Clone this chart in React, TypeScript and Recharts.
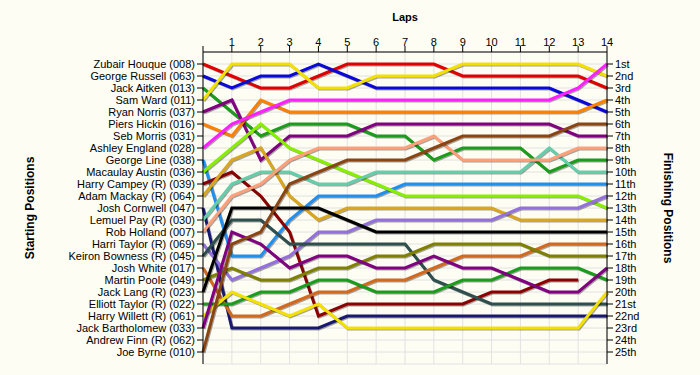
import React from 'react'
import { LineChart, Line, XAxis, YAxis, CartesianGrid } from 'recharts'

// laps along the top
const laps = [0, 1, 2, 3, 4, 5, 6, 7, 8, 9, 10, 11, 12, 13, 14]
const lapTicks = [0, 1, 2, 3, 4, 5, 6, 7, 8, 9, 10, 11, 12, 13, 14]
const rowTicks = [1, 2, 3, 4, 5, 6, 7, 8, 9, 10, 11, 12, 13, 14, 15, 16, 17, 18, 19, 20, 21, 22, 23, 24, 25]

const startingLabels = [
  'Zubair Houque (008)',
  'George Russell (063)',
  'Jack Aitken (013)',
  'Sam Ward (011)',
  'Ryan Norris (037)',
  'Piers Hickin (016)',
  'Seb Morris (031)',
  'Ashley England (028)',
  'George Line (038)',
  'Macaulay Austin (036)',
  'Harry Campey (R) (039)',
  'Adam Mackay (R) (064)',
  'Josh Cornwell (047)',
  'Lemuel Pay (R) (030)',
  'Rob Holland (007)',
  'Harri Taylor (R) (069)',
  'Keiron Bowness (R) (045)',
  'Josh White (017)',
  'Martin Poole (049)',
  'Jack Lang (R) (023)',
  'Elliott Taylor (R) (022)',
  'Harry Willett (R) (061)',
  'Jack Bartholomew (033)',
  'Andrew Finn (R) (062)',
  'Joe Byrne (010)'
]

const finishingLabels = [
  '1st', '2nd', '3rd', '4th', '5th', '6th', '7th', '8th', '9th', '10th',
  '11th', '12th', '13th', '14th', '15th', '16th', '17th', '18th', '19th', '20th',
  '21st', '22nd', '23rd', '24th', '25th'
]

// position at the end of each lap (lap 0 = grid)
const houque = [1, 2, 3, 3, 2, 1, 1, 1, 1, 2, 2, 2, 2, 2, 3]
const russell = [2, 3, 2, 2, 1, 2, 3, 3, 3, 3, 3, 3, 3, 4, 5]
const aitken = [3, 5, 7, 6, 6, 6, 7, 7, 9, 8, 8, 8, 10, 9, 9]
const ward = [4, 1, 1, 1, 3, 3, 2, 2, 2, 1, 1, 1, 1, 1, 2]
const norris = [5, 4, 9, 7, 7, 7, 6, 6, 6, 6, 6, 6, 6, 7, 7]
const hickin = [6, 7, 4, 5, 5, 5, 5, 5, 5, 5, 5, 5, 5, 5, 4]
const england = [8, 6, 5, 4, 4, 4, 4, 4, 4, 4, 4, 4, 4, 3, 1]
const line = [9, 17, 17, 14, 12, 12, 12, 11, 11, 11, 11, 11, 11, 11, 11]
const austin = [10, 8, 6, 8, 9, 10, 11, 12, 12, 12, 12, 12, 12, 12, 13]
const campey = [11, 10, 12, 15, 22, 21, 21, 21, 21, 21, 20, 20, 19, 19, null]
const mackay = [12, 9, 8, 12, 14, 13, 13, 13, 13, 13, 13, 14, 14, 14, 14]
const cornwell = [13, 23, 23, 23, 23, 22, 22, 22, 22, 22, 22, 22, 22, 22, 22]
const pay = [14, 11, 10, 10, 11, 11, 10, 10, 10, 10, 10, 10, 8, 10, 10]
const holland = [15, 12, 11, 9, 8, 8, 8, 8, 7, 9, 9, 9, 9, 8, 8]
const harriTaylor = [16, 19, 18, 17, 15, 15, 14, 14, 14, 14, 14, 13, 13, 13, 12]
const bowness = [17, 14, 14, 16, 16, 16, 16, 16, 19, 20, 21, 21, 21, 21, 21]
const white = [18, 22, 22, 21, 20, 20, 19, 19, 18, 17, 17, 17, 16, 16, 16]
const poole = [19, 18, 19, 19, 18, 18, 17, 17, 16, 16, 16, 16, 17, 17, 17]
const lang = [20, 13, 13, 13, 13, 14, 15, 15, 15, 15, 15, 15, 15, 15, 15]
const elliottTaylor = [21, 21, 20, 20, 19, 19, 20, 20, 20, 19, 19, 18, 18, 18, 19]
const willett = [22, 20, 21, 22, 21, 23, 23, 23, 23, 23, 23, 23, 23, 23, 20]
const bartholomew = [23, 15, 16, 18, 17, 17, 18, 18, 17, 18, 18, 19, 20, 20, 18]
const byrne = [25, 16, 15, 11, 10, 9, 9, 9, 8, 7, 7, 7, 7, 6, 6]

const drivers = [
  { key: 'houque', name: 'Zubair Houque (008)', values: houque },
  { key: 'russell', name: 'George Russell (063)', values: russell },
  { key: 'aitken', name: 'Jack Aitken (013)', values: aitken },
  { key: 'ward', name: 'Sam Ward (011)', values: ward },
  { key: 'norris', name: 'Ryan Norris (037)', values: norris },
  { key: 'hickin', name: 'Piers Hickin (016)', values: hickin },
  { key: 'england', name: 'Ashley England (028)', values: england },
  { key: 'line', name: 'George Line (038)', values: line },
  { key: 'austin', name: 'Macaulay Austin (036)', values: austin },
  { key: 'campey', name: 'Harry Campey (R) (039)', values: campey },
  { key: 'mackay', name: 'Adam Mackay (R) (064)', values: mackay },
  { key: 'cornwell', name: 'Josh Cornwell (047)', values: cornwell },
  { key: 'pay', name: 'Lemuel Pay (R) (030)', values: pay },
  { key: 'holland', name: 'Rob Holland (007)', values: holland },
  { key: 'harriTaylor', name: 'Harri Taylor (R) (069)', values: harriTaylor },
  { key: 'bowness', name: 'Keiron Bowness (R) (045)', values: bowness },
  { key: 'white', name: 'Josh White (017)', values: white },
  { key: 'poole', name: 'Martin Poole (049)', values: poole },
  { key: 'lang', name: 'Jack Lang (R) (023)', values: lang },
  { key: 'elliottTaylor', name: 'Elliott Taylor (R) (022)', values: elliottTaylor },
  { key: 'willett', name: 'Harry Willett (R) (061)', values: willett },
  { key: 'bartholomew', name: 'Jack Bartholomew (033)', values: bartholomew },
  { key: 'byrne', name: 'Joe Byrne (010)', values: byrne }
]

const lineColors: Record<string, string> = {
  houque: '#e00000',
  russell: '#0a0ad8',
  aitken: '#1c9c1c',
  ward: '#f4e000',
  norris: '#800080',
  hickin: '#ff8000',
  england: '#ff20ff',
  line: '#2090f0',
  austin: '#88ee00',
  campey: '#8b0000',
  mackay: '#daa520',
  cornwell: '#191970',
  pay: '#66cdaa',
  holland: '#ffa07a',
  harriTaylor: '#9370db',
  bowness: '#2f4f4f',
  white: '#d2691e',
  poole: '#808000',
  lang: '#000000',
  elliottTaylor: '#1c9c1c',
  willett: '#f4e000',
  bartholomew: '#800080',
  byrne: '#8b4513'
}

const data = laps.map((lap, i) => {
  const row: Record<string, number | null> = { lap }
  drivers.forEach(d => {
    row[d.key] = d.values[i]
  })
  return row
})

const titleStyle: React.CSSProperties = {
  position: 'absolute',
  fontWeight: 'bold',
  fontSize: 12,
  color: '#000',
  whiteSpace: 'nowrap'
}

export default function App() {
  return (
    <div
      className="lapchart"
      style={{
        position: 'absolute',
        left: 0,
        top: 0,
        width: 700,
        height: 375,
        background: '#fdfdf3',
        fontFamily: '"Liberation Sans", Arial, sans-serif'
      }}
    >
      <style>{`.lapchart .recharts-line-curve { filter: drop-shadow(1px 1.5px 0.4px rgba(0,0,0,0.35)); }`}</style>
      <LineChart width={700} height={375} data={data} margin={{ top: 0, right: 0, bottom: 11, left: 0 }}>
        <CartesianGrid stroke="#e2e2e2" />
        <XAxis
          dataKey="lap"
          type="number"
          orientation="top"
          domain={[0, 14]}
          ticks={lapTicks}
          interval={0}
          height={52}
          tickMargin={0}
          tickFormatter={(v: number) => (v === 0 ? '' : String(v))}
          tick={{ fill: '#000', fontSize: 11 }}
          axisLine={{ stroke: '#000' }}
          tickLine={{ stroke: '#000' }}
        />
        <YAxis
          type="number"
          domain={[0, 26]}
          reversed
          ticks={rowTicks}
          interval={0}
          width={203}
          tickFormatter={(v: number) => startingLabels[v - 1]}
          tick={{ fill: '#000', fontSize: 11 }}
          axisLine={{ stroke: '#000' }}
          tickLine={{ stroke: '#000' }}
        />
        <YAxis
          yAxisId="right"
          orientation="right"
          type="number"
          domain={[0, 26]}
          reversed
          ticks={rowTicks}
          interval={0}
          width={93}
          tickFormatter={(v: number) => finishingLabels[v - 1]}
          tick={{ fill: '#000', fontSize: 11 }}
          axisLine={{ stroke: '#000' }}
          tickLine={{ stroke: '#000' }}
        />
        {drivers.map((d, i) => (
          <Line
            key={d.key}
            yAxisId={i === drivers.length - 1 ? 'right' : 0}
            type="linear"
            dataKey={d.key}
            name={d.name}
            stroke={lineColors[d.key]}
            strokeWidth={3}
            dot={false}
            activeDot={false}
            isAnimationActive={false}
          />
        ))}
      </LineChart>
      <div style={{ ...titleStyle, left: 405, top: 17, transform: 'translate(-50%, -50%)', fontSize: 11 }}>Laps</div>
      <div style={{ ...titleStyle, left: 30, top: 208, transform: 'translate(-50%, -50%) rotate(-90deg)' }}>
        Starting Positions
      </div>
      <div style={{ ...titleStyle, left: 668, top: 208, transform: 'translate(-50%, -50%) rotate(90deg)' }}>
        Finishing Positions
      </div>
    </div>
  )
}
